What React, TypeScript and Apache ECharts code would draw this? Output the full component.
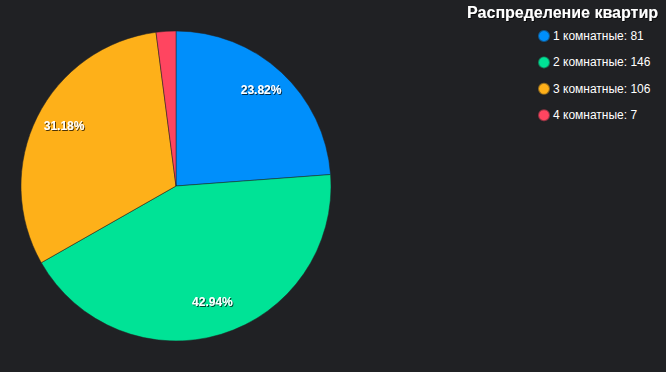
import React, { useEffect, useRef } from "react";
import * as echarts from "echarts";

const categories = ["1 комнатные", "2 комнатные", "3 комнатные", "4 комнатные"];
const values = [81, 146, 106, 7];
const colors = ["#008FFB", "#00E396", "#FEB019", "#FF4560"];
const titleText = "Распределение квартир";

export default function App() {
  const ref = useRef<HTMLDivElement>(null);
  useEffect(() => {
    if (!ref.current) return;
    const chart = echarts.init(ref.current, undefined, { renderer: "svg" });
    const total = values.reduce((a, b) => a + b, 0);
    const data = categories.map((name, i) => ({ name, value: values[i] }));
    const font = "'Liberation Sans', Arial, Helvetica, sans-serif";
    chart.setOption({
      animation: false,
      backgroundColor: "#202124",
      color: colors,
      title: {
        text: titleText,
        right: 8,
        top: 4,
        padding: 0,
        textStyle: {
          color: "#ffffff",
          fontFamily: font,
          fontWeight: "bold",
          fontSize: 16,
          textShadowColor: "rgba(0,0,0,0.7)",
          textShadowBlur: 1,
          textShadowOffsetX: 1,
          textShadowOffsetY: 1,
        },
      },
      legend: {
        orient: "vertical",
        left: 537,
        top: 29,
        padding: 0,
        icon: "circle",
        itemWidth: 12,
        itemHeight: 12,
        itemGap: 12.4,
        data: categories,
        formatter: (name: string) => {
          const i = categories.indexOf(name);
          return `${name}: ${values[i]}`;
        },
        textStyle: {
          color: "#ffffff",
          fontFamily: font,
          fontSize: 12,
          lineHeight: 14,
          padding: [0, 0, 0, -2],
        },
      },
      series: [
        {
          type: "pie",
          center: [176, 186],
          radius: [0, 155],
          startAngle: 90,
          clockwise: true,
          data,
          label: { show: false },
          labelLine: { show: false },
          itemStyle: { borderColor: "rgba(32,33,36,0.5)", borderWidth: 1 },
          emphasis: { disabled: true },
        },
        {
          type: "pie",
          center: [176, 186],
          radius: [89, 155],
          startAngle: 90,
          clockwise: true,
          silent: true,
          data,
          itemStyle: { color: "rgba(0,0,0,0)" },
          labelLine: { show: false },
          labelLayout: () => ({ dy: -4 }),
          label: {
            show: true,
            position: "inner",
            color: "#ffffff",
            fontFamily: font,
            fontWeight: "bold",
            fontSize: 12,
            textShadowColor: "rgba(0,0,0,0.7)",
            textShadowBlur: 1,
            textShadowOffsetX: 1,
            textShadowOffsetY: 1,
            formatter: (p: any) => {
              const pct = (p.value / total) * 100;
              return pct < 5 ? "" : pct.toFixed(2) + "%";
            },
          },
          emphasis: { disabled: true },
        },
      ],
    });
    return () => chart.dispose();
  }, []);
  return <div ref={ref} style={{ width: 666, height: 372, position: "absolute", left: 0, top: 0 }} />;
}
